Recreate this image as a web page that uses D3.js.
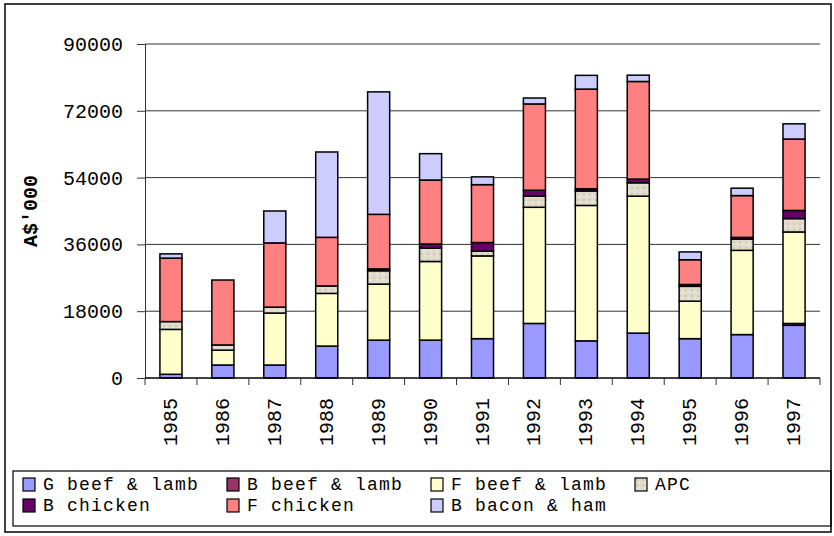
<!DOCTYPE html>
<html>
<head>
<meta charset="utf-8">
<script src="https://cdn.jsdelivr.net/npm/d3@7"></script>
<style>
  body { margin: 0; background: #fff; }
  svg { display: block; font-family: "Liberation Mono", "Courier New", monospace; }
</style>
</head>
<body>
<svg id="chart"></svg>
<script>
// data (A$'000)
const years = ["1985","1986","1987","1988","1989","1990","1991","1992","1993","1994","1995","1996","1997"];
const gBeef    = [1000, 3500, 3500, 8600, 10200, 10200, 10600, 14700, 10000, 12100, 10600, 11700, 14200];
const bBeef    = [0, 0, 0, 0, 0, 0, 0, 0, 0, 0, 0, 0, 500];
const fBeef    = [12100, 4000, 14000, 14200, 15100, 21200, 22300, 31300, 36500, 36900, 10100, 22700, 24650];
const apc      = [2100, 1400, 1600, 2000, 3600, 3600, 1300, 3000, 3900, 3600, 4000, 3000, 3600];
const bChicken = [0, 0, 0, 0, 500, 1100, 2300, 1600, 600, 1000, 500, 500, 2200];
const fChicken = [17100, 17500, 17300, 13100, 14700, 17250, 15600, 23250, 26850, 26300, 6670, 11250, 19240];
const bBacon   = [1150, 0, 8600, 23000, 33000, 7100, 2100, 1600, 3700, 1700, 2100, 2000, 4100];
const seriesNames = ["G beef & lamb", "B beef & lamb", "F beef & lamb", "APC", "B chicken", "F chicken", "B bacon & ham"];
const yTicks = [0, 18000, 36000, 54000, 72000, 90000];

const colors = ["#9999ff", "#993366", "#ffffcc", "url(#apc)", "#660066", "#ff8080", "#ccccff"];

const W = 834, H = 536;
const svg = d3.select("#chart").attr("width", W).attr("height", H);

// texture for APC
const pat = svg.append("defs").append("pattern")
  .attr("id", "apc").attr("patternUnits", "userSpaceOnUse")
  .attr("width", 6).attr("height", 6);
pat.append("rect").attr("width", 6).attr("height", 6).attr("fill", "#e2dccd");
pat.append("rect").attr("x", 1).attr("y", 1).attr("width", 2).attr("height", 2).attr("fill", "#cfc6b3");
pat.append("rect").attr("x", 4).attr("y", 3).attr("width", 1).attr("height", 2).attr("fill", "#f1ece2");

// outer frame
svg.append("rect").attr("x", 5).attr("y", 4).attr("width", 826).attr("height", 528)
  .attr("fill", "none").attr("stroke", "#000").attr("stroke-width", 1.5);

const rows = years.map((y, i) => ({
  year: y,
  s0: gBeef[i], s1: bBeef[i], s2: fBeef[i], s3: apc[i],
  s4: bChicken[i], s5: fChicken[i], s6: bBacon[i]
}));
const keys = ["s0","s1","s2","s3","s4","s5","s6"];
const stacked = d3.stack().keys(keys)(rows);

const x = d3.scaleBand().domain(years).range([145, 820])
  .paddingInner(0.575).paddingOuter(0.2875);
const y = d3.scaleLinear().domain([0, 90000]).range([378, 44]);

// gridlines
svg.append("g").selectAll("line").data(yTicks.slice(1)).join("line")
  .attr("x1", 145).attr("x2", 820)
  .attr("y1", d => y(d)).attr("y2", d => y(d))
  .attr("stroke", "#333").attr("stroke-width", 1);

// bars
svg.append("g").selectAll("g").data(stacked).join("g")
  .attr("fill", (d, i) => colors[i])
  .selectAll("rect").data(d => d.filter(p => p[1] > p[0])).join("rect")
  .attr("x", d => x(d.data.year))
  .attr("y", d => y(d[1]))
  .attr("width", x.bandwidth())
  .attr("height", d => y(d[0]) - y(d[1]))
  .attr("stroke", "#000").attr("stroke-width", 1.5);

// y axis
const yAxis = d3.axisLeft(y).tickValues(yTicks).tickSize(8).tickPadding(14).tickFormat(d3.format("d"));
const gy = svg.append("g").attr("transform", "translate(145,0)").call(yAxis);
gy.select(".domain").attr("stroke", "#333");
gy.selectAll(".tick line").attr("stroke", "#333");
gy.selectAll("text").attr("font-size", 20).attr("font-family", "Liberation Mono").attr("fill", "#000");

// x axis: ticks at category boundaries
svg.append("line").attr("x1", 145).attr("x2", 820).attr("y1", 378).attr("y2", 378)
  .attr("stroke", "#000").attr("stroke-width", 1.5);
const bounds = d3.range(years.length + 1).map(i => 145 + i * x.step());
svg.append("g").selectAll("line").data(bounds).join("line")
  .attr("x1", d => d).attr("x2", d => d).attr("y1", 378).attr("y2", 385)
  .attr("stroke", "#333");
svg.append("g").selectAll("text").data(years).join("text")
  .attr("transform", d => `translate(${x(d) + x.bandwidth() / 2 + 6},398) rotate(-90)`)
  .attr("text-anchor", "end")
  .attr("font-size", 20)
  .text(d => d);

// y title
svg.append("text")
  .attr("transform", "translate(37,211) rotate(-90)")
  .attr("text-anchor", "middle")
  .attr("font-size", 20).attr("font-weight", "bold")
  .text("A$'000");

// legend
svg.append("rect").attr("x", 13).attr("y", 471).attr("width", 818).attr("height", 55)
  .attr("fill", "none").attr("stroke", "#000").attr("stroke-width", 1.2);
const lg = svg.append("g").selectAll("g").data(seriesNames).join("g")
  .attr("transform", (d, i) => {
    const col = i < 4 ? i : i - 4;
    const row = i < 4 ? 0 : 1;
    return `translate(${23 + col * 204},${478 + row * 21})`;
  });
lg.append("rect").attr("width", 12).attr("height", 13)
  .attr("fill", (d, i) => colors[i]).attr("stroke", "#000").attr("stroke-width", 1.2);
lg.append("text").attr("x", 20).attr("y", 12).attr("font-size", 18)
  .attr("letter-spacing", 1.2).text(d => d);
</script>
</body>
</html>
